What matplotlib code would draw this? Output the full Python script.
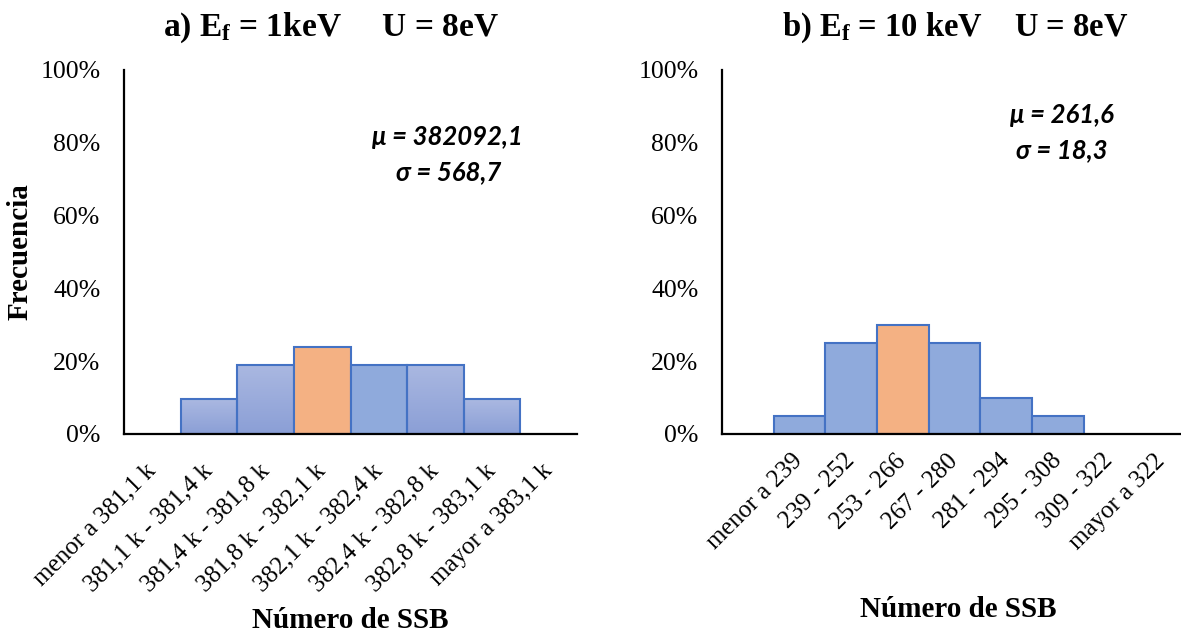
import numpy as np
import matplotlib
matplotlib.use("Agg")
import matplotlib.pyplot as plt
from matplotlib.ticker import PercentFormatter
from matplotlib.colors import LinearSegmentedColormap

# ---- data -------------------------------------------------------------
labels_a = ["menor a 381,1 k", "381,1 k - 381,4 k", "381,4 k - 381,8 k",
            "381,8 k - 382,1 k", "382,1 k - 382,4 k", "382,4 k - 382,8 k",
            "382,8 k - 383,1 k", "mayor a 383,1 k"]
freq_a = [0.0, 2 / 21, 4 / 21, 5 / 21, 4 / 21, 4 / 21, 2 / 21, 0.0]
mean_bin_a = 3
gradient_a = [True, True, True, False, False, True, True, True]

labels_b = ["menor a 239", "239 - 252", "253 - 266", "267 - 280",
            "281 - 294", "295 - 308", "309 - 322", "mayor a 322"]
freq_b = [0.05, 0.25, 0.30, 0.25, 0.10, 0.05, 0.0, 0.0]
mean_bin_b = 2

stats_a = ("μ = 382092,1", "σ = 568,7")
stats_b = ("μ = 261,6", "σ = 18,3")

yticks = [0.0, 0.2, 0.4, 0.6, 0.8, 1.0]

# ---- style ------------------------------------------------------------
SERIF = "Liberation Serif"
plt.rcParams["font.family"] = [SERIF, "DejaVu Serif"]
plt.rcParams["mathtext.fontset"] = "custom"
plt.rcParams["mathtext.rm"] = SERIF
plt.rcParams["mathtext.bf"] = SERIF + ":bold"

BLUE = "#8FAADC"
BLUE_TOP = "#AAB8E1"
BLUE_BOT = "#8B9FD6"
ORANGE = "#F4B183"
EDGE = "#4472C4"

W, H = 1181, 633
fig = plt.figure(figsize=(W / 100, H / 100), dpi=100)


def fx(px):
    return px / W


def fy(py):
    return 1 - py / H


grad_cmap = LinearSegmentedColormap.from_list("bar_grad", [BLUE_BOT, BLUE_TOP])


def draw_panel(ax, positions, labels, freq, mean_bin, gradient, xmax, xpad):
    for i, (x, v) in enumerate(zip(positions, freq)):
        if v <= 0:
            continue
        face = ORANGE if i == mean_bin else BLUE
        bar = ax.bar(x, v, width=1.0, color=face, edgecolor=EDGE,
                     linewidth=1.5, zorder=2)[0]
        if gradient is not None and gradient[i] and i != mean_bin:
            bar.set_facecolor("none")
            g = np.linspace(0, 1, 64).reshape(-1, 1)
            im = ax.imshow(g, cmap=grad_cmap, origin="lower", aspect="auto",
                           extent=(x - 0.5, x + 0.5, 0, v), zorder=1.5,
                           interpolation="bilinear")
            im.set_clip_path(bar)
    ax.set_xlim(-0.5, xmax)
    ax.set_ylim(0, 1)
    ax.set_yticks(yticks)
    ax.yaxis.set_major_formatter(PercentFormatter(1.0, decimals=0))
    ax.set_xticks(positions)
    ax.set_xticklabels(labels, rotation=45, ha="right", va="center",
                       rotation_mode="anchor")
    ax.tick_params(axis="both", length=0)
    ax.tick_params(axis="x", pad=xpad, labelsize=18)
    ax.tick_params(axis="y", pad=17, labelsize=18.5)
    for s in ("top", "right"):
        ax.spines[s].set_visible(False)
    for s in ("left", "bottom"):
        ax.spines[s].set_linewidth(1.6)
        ax.spines[s].set_color("black")
        ax.spines[s].set_zorder(3)


ax_a = fig.add_axes([fx(124), fy(434), fx(577 - 124), 364 / H])
draw_panel(ax_a, np.arange(len(labels_a)), labels_a, freq_a, mean_bin_a,
           gradient_a, 7.5, 24)

ax_b = fig.add_axes([fx(722), fy(434), fx(1180 - 722), 364 / H])
draw_panel(ax_b, np.arange(1, len(labels_b) + 1), labels_b, freq_b,
           mean_bin_b, None, 8.36, 17)

# titles
fig.text(fx(331), fy(36), r"a) $\mathbf{E_f}$ = 1keV     U = 8eV",
         ha="center", va="baseline", fontsize=24, fontweight="bold")
fig.text(fx(955), fy(36), r"b) $\mathbf{E_f}$ = 10 keV    U = 8eV",
         ha="center", va="baseline", fontsize=23.5, fontweight="bold")

# axis labels
fig.text(fx(20), fy(252), "Frecuencia", rotation=90, ha="center",
         va="center", fontsize=21, fontweight="bold")
fig.text(fx(350), fy(628), "Número de SSB", ha="center", va="baseline",
         fontsize=21, fontweight="bold")
fig.text(fx(958), fy(617), "Número de SSB", ha="center", va="baseline",
         fontsize=21, fontweight="bold")

# summary statistics
stat_font = dict(family=["Lato", "DejaVu Sans"], style="italic",
                 weight="bold", fontsize=18.5, ha="center", va="center")
fig.text(fx(447), fy(137), stats_a[0], **stat_font)
fig.text(fx(449), fy(172), stats_a[1], **stat_font)
fig.text(fx(1062), fy(115), stats_b[0], **stat_font)
fig.text(fx(1062), fy(150), stats_b[1], **stat_font)

fig.savefig("out.png", dpi=100)
